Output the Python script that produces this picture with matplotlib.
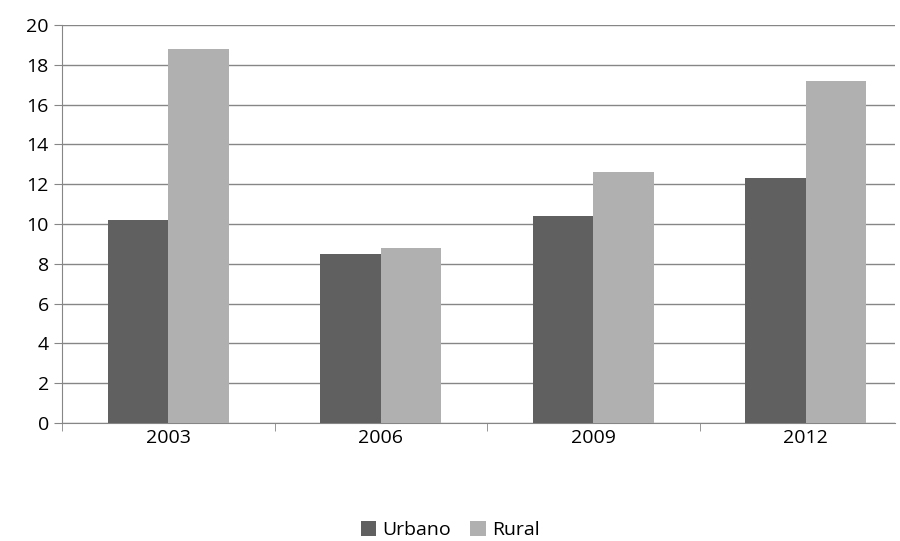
import matplotlib
matplotlib.use("Agg")
import matplotlib.pyplot as plt
import numpy as np

years = ["2003", "2006", "2009", "2012"]
urbano = [10.2, 8.5, 10.4, 12.3]
rural = [18.8, 8.8, 12.6, 17.2]

plt.rcParams['font.family'] = ['Open Sans', 'DejaVu Sans']
fig = plt.figure(figsize=(9, 5.41), dpi=100)
ax = fig.add_axes([62/900, 1-423/541, (895-62)/900, (423-25)/541])
x = np.arange(len(years))
w = 0.285
ax.bar(x - w/2, urbano, w, color="#606060", label="Urbano", zorder=3)
ax.bar(x + w/2, rural, w, color="#b0b0b0", label="Rural", zorder=3)
ax.set_ylim(0, 20)
ax.set_yticks(range(0, 21, 2))
ax.set_xticks(x)
ax.set_xticklabels(years)
ax.set_xticks(np.arange(-0.5, 3.6, 1), minor=True)
ax.set_xlim(-0.5, 3.42)
ax.tick_params(axis='x', which='major', length=0, pad=4, labelsize=14)
ax.tick_params(axis='x', which='minor', length=6, color="#868686")
ax.tick_params(axis='y', length=6, color="#868686", labelsize=14)
ax.yaxis.grid(True, color="#868686", linewidth=1, zorder=0)
for s in ["top", "right"]:
    ax.spines[s].set_visible(False)
for s in ["left", "bottom"]:
    ax.spines[s].set_color("#868686")
fig.legend(loc="center", bbox_to_anchor=(0.5, 1-530/541), ncol=2, frameon=False,
           fontsize=14, handlelength=0.8, handleheight=0.8, columnspacing=1.0, handletextpad=0.3)
fig.savefig("out.png")
